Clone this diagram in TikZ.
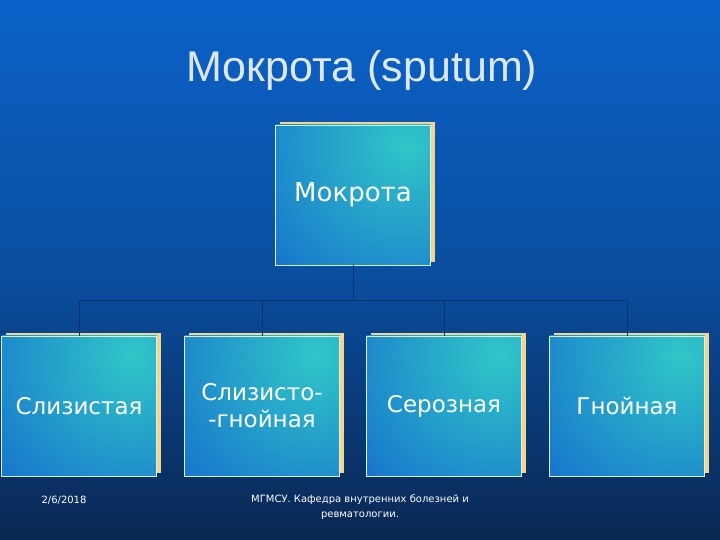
\documentclass[tikz,border=0pt]{standalone}
\usepackage{fontspec}
\setmainfont{Liberation Sans}
\newfontfamily\boxfont{DejaVu Sans}
\usetikzlibrary{calc,shadows}

\definecolor{bgtop}{HTML}{0B62C8}
\definecolor{bgmid}{HTML}{0A4EA0}
\definecolor{bgbottom}{HTML}{0A2853}
\definecolor{boxblue}{HTML}{105ECE}
\definecolor{boxcyan}{HTML}{30C6C8}
\definecolor{boxrim}{HTML}{D9F2F0}
\definecolor{boxgold}{HTML}{F3D58C}
\definecolor{linenavy}{HTML}{0A3470}
\definecolor{titlegray}{HTML}{DCE8F6}

\tikzset{
  sortbox/.style={draw=boxrim, line width=0.9pt, minimum width=155pt, minimum height=140pt,
    text=white, font=\boxfont\fontsize{23}{27}\selectfont, align=center,
    general shadow={fill=boxgold, draw=none, shadow xshift=4pt, shadow yshift=2.5pt},
    path picture={\shade[inner color=boxcyan, outer color=boxblue]
      ($(path picture bounding box.north east)+(-24pt,-20pt)$) circle (230pt);}},
  tree/.style={draw=linenavy, line width=1pt}
}

\begin{document}
\begin{tikzpicture}[x=1pt,y=1pt]
  % background of the slide
  \shade[top color=bgtop, bottom color=bgbottom, middle color=bgmid] (0,0) rectangle (720,540);
  \useasboundingbox (0,0) rectangle (720,540);

  \node [text=titlegray, font=\fontsize{43}{50}\selectfont] (title) at (362,470) {Мокрота (sputum)};

  % the chart
  \node [sortbox, font=\boxfont\fontsize{26}{30}\selectfont] (root) at (353,345) {Мокрота};
  \node [sortbox] (mucous) at (79,134) {Слизистая};
  \node [sortbox] (mixed) at (262,134) {Слизисто-\\-гнойная};
  \node [sortbox] (serous) at (444,134) {Серозная};
  \node [sortbox] (purulent) at (627,134) {Гнойная};

  \coordinate (fork) at (root.south |- 0,239);
  \draw [tree] (root.south) -- (fork);
  \draw [tree] (mucous.north |- fork) -- (purulent.north |- fork);
  \foreach \leaf in {mucous,mixed,serous,purulent}
    \draw [tree] (\leaf.north |- fork) -- (\leaf.north);

  \begin{scope}[font=\boxfont\fontsize{10}{15}\selectfont, text=white]
    \node (date) at (64,40) {2/6/2018};
    \node [align=center] (footer) at (360,33) {МГМСУ. Кафедра внутренних болезней и\\ревматологии.};
  \end{scope}
\end{tikzpicture}
\end{document}
